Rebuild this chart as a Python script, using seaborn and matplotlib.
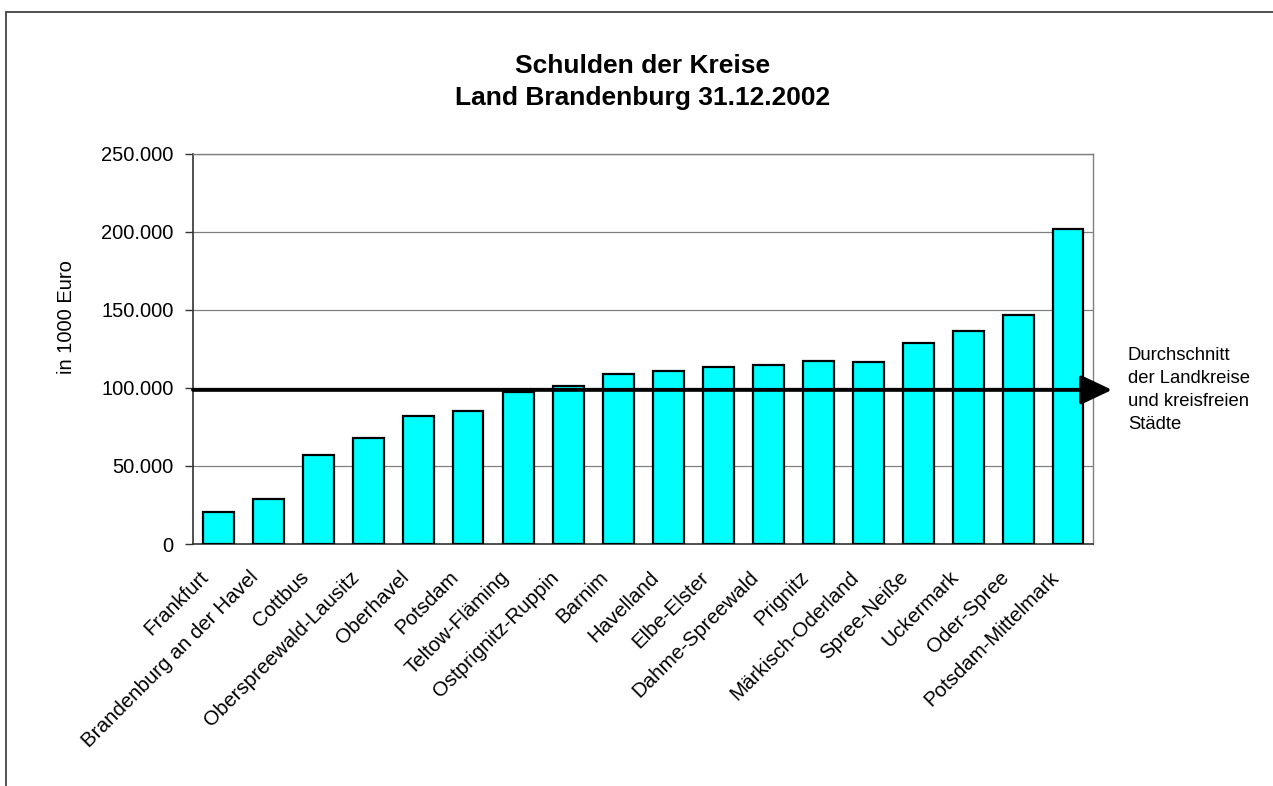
import numpy as np
import seaborn as sns
import matplotlib.pyplot as plt
import matplotlib.transforms as mtransforms
from matplotlib.ticker import FuncFormatter
from matplotlib.patches import Rectangle

kreise = ["Frankfurt", "Brandenburg an der Havel", "Cottbus", "Oberspreewald-Lausitz",
          "Oberhavel", "Potsdam", "Teltow-Fläming", "Ostprignitz-Ruppin", "Barnim",
          "Havelland", "Elbe-Elster", "Dahme-Spreewald", "Prignitz", "Märkisch-Oderland",
          "Spree-Neiße", "Uckermark", "Oder-Spree", "Potsdam-Mittelmark"]
schulden = [20500, 28800, 57000, 68100, 82000, 85400, 97400, 101300, 108800,
            110900, 113500, 114500, 117100, 116900, 128600, 136500, 146800, 201700]
durchschnitt = 98800
y_ticks = [0, 50000, 100000, 150000, 200000, 250000]

sns.set_theme(style="white")
plt.rcParams['font.family'] = ['Liberation Sans', 'DejaVu Sans']
plt.rcParams['text.color'] = 'black'
plt.rcParams['axes.labelcolor'] = 'black'
plt.rcParams['xtick.color'] = 'black'
plt.rcParams['ytick.color'] = 'black'

fig = plt.figure(figsize=(12.73, 7.86), dpi=100)
ax = fig.add_axes([193/1273, 1-544/786, 900/1273, 390/786])

# outer frame like the Excel chart area
fig.patches.append(Rectangle((6/1273, -0.1), 1.2, 1-12/786+0.1, transform=fig.transFigure,
                             fill=False, edgecolor="#333333", linewidth=1.2, zorder=0))

sns.barplot(x=kreise, y=schulden, color="#00FFFF", saturation=1, edgecolor="black",
            linewidth=1.6, width=0.62, ax=ax, zorder=3)

ax.set_ylim(0, 250000)
ax.set_xlim(-0.5, len(kreise) - 0.5)
ax.set_yticks(y_ticks)
ax.yaxis.set_major_formatter(FuncFormatter(lambda v, p: f"{int(v):,}".replace(",", ".")))
ax.yaxis.grid(True, color="#808080", linewidth=0.9, zorder=0)
ax.set_axisbelow(True)

ax.set_xticks(np.arange(len(kreise)))
ax.set_xticklabels(kreise, rotation=45, ha="right", rotation_mode="anchor")
ax.set_xticks(np.arange(-0.5, len(kreise), 1), minor=True)
ax.tick_params(axis="x", which="major", length=0, pad=17, labelsize=14.8, colors="black")
ax.tick_params(axis="x", which="minor", length=6, width=1, color="#333333", direction="out")
ax.tick_params(axis="y", length=6, width=1, color="#333333", direction="out", pad=8,
               labelsize=14.5, left=True)
ax.set_xlabel("")
shift = mtransforms.ScaledTranslation(-19/100, 0, fig.dpi_scale_trans)
for lab in ax.get_xticklabels():
    lab.set_transform(lab.get_transform() + shift)

for s in ["left", "bottom"]:
    ax.spines[s].set_color("#333333")
    ax.spines[s].set_linewidth(1.2)
for s in ["top", "right"]:
    ax.spines[s].set_color("#808080")
    ax.spines[s].set_linewidth(1)

ax.set_ylabel("in 1000 Euro", fontsize=14.5)
ax.yaxis.set_label_coords(-0.13, 0.582)

ax.set_title("Schulden der Kreise\nLand Brandenburg 31.12.2002", fontsize=19,
             fontweight="bold", pad=35, linespacing=1.45)

# average line with arrow
ax.annotate("", xy=(len(kreise) - 0.12, durchschnitt), xytext=(-0.5, durchschnitt),
            arrowprops=dict(arrowstyle="-|>,head_length=1.9,head_width=0.9",
                            mutation_scale=10, lw=2.8, color="black",
                            shrinkA=0, shrinkB=0),
            annotation_clip=False, zorder=5)
ax.annotate("Durchschnitt\nder Landkreise\nund kreisfreien\nStädte",
            xy=(1, durchschnitt), xycoords=("axes fraction", "data"),
            xytext=(25, 0), textcoords="offset points", ha="left", va="center",
            fontsize=13.3, linespacing=1.45, annotation_clip=False)

fig.savefig("out.png", dpi=100)
